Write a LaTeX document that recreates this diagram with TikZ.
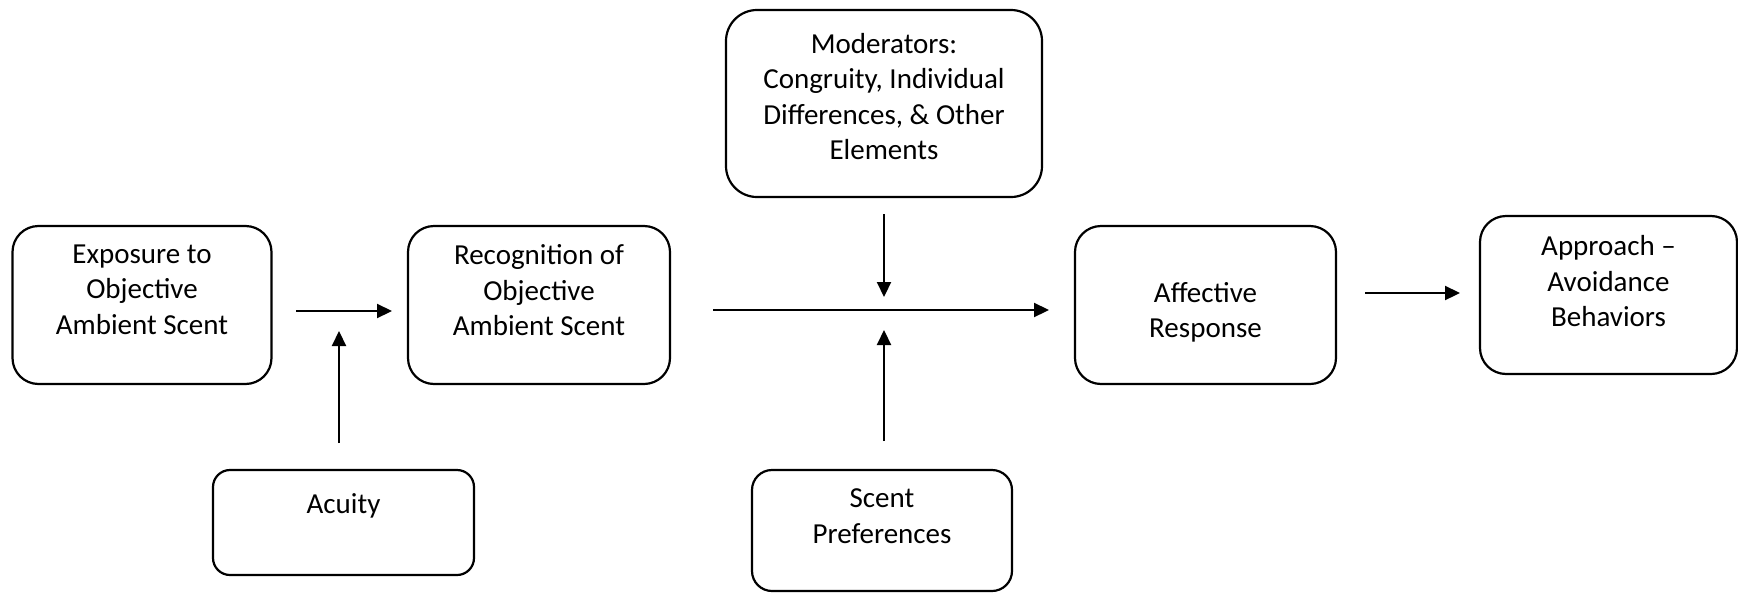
\documentclass[tikz,border=0pt]{standalone}
\usepackage{fontspec}
\setmainfont{Carlito}
\usetikzlibrary{arrows.meta}
\tikzset{
  box/.style={draw, line width=2.2pt, rounded corners=#1, inner sep=0pt},
  txt/.style={align=center, inner sep=0pt, anchor=north,
    font=\fontsize{29}{35.5}\selectfont, execute at begin node=\strut},
  arr/.style={line width=2.2pt, -{Triangle[length=15pt,width=14pt]}}
}
\begin{document}
\begin{tikzpicture}[x=1pt,y=-1pt]
\useasboundingbox (0,0) rectangle (1738,592);
% boxes
\node[box=26pt, minimum width=259pt, minimum height=158pt] (exp) at (142,305) {};
\node[box=26pt, minimum width=262pt, minimum height=158pt] (rec) at (539,305) {};
\node[box=31pt, minimum width=316pt, minimum height=187pt] (mod) at (884,103.5) {};
\node[box=26pt, minimum width=261pt, minimum height=158pt] (aff) at (1205.5,305) {};
\node[box=26pt, minimum width=257pt, minimum height=158pt] (app) at (1608.5,295) {};
\node[box=17pt, minimum width=261pt, minimum height=105pt] (acu) at (343.5,522.5) {};
\node[box=20pt, minimum width=260pt, minimum height=121pt] (pref) at (882,530.5) {};
% texts
\node[txt] (expt) at ([yshift=-19.5pt]exp.north) {Exposure to\\Objective\\Ambient Scent};
\node[txt] (rect) at ([yshift=-19.5pt]rec.north) {Recognition of\\Objective\\Ambient Scent};
\node[txt] (modt) at ([yshift=-24pt]mod.north) {Moderators:\\Congruity, Individual\\Differences, \& Other\\Elements};
\node[txt] (afft) at ([yshift=-57pt]aff.north) {Affective\\Response};
\node[txt] (appt) at ([yshift=-20.5pt]app.north) {Approach –\\Avoidance\\Behaviors};
\node[txt] (acut) at ([yshift=-19.5pt]acu.north) {Acuity};
\node[txt] (preft) at ([yshift=-20pt]pref.north) {Scent\\Preferences};
% connector points
\coordinate (a1s) at (296,311);
\coordinate (a1e) at (392,311);
\coordinate (acs) at (339,443);
\coordinate (ace) at (339,331);
\coordinate (ls) at (713,310);
\coordinate (le) at (1049,310);
\coordinate (ms) at (884,214);
\coordinate (me) at (884,297);
\coordinate (ps) at (884,441);
\coordinate (pe) at (884,330);
\coordinate (a4s) at (1365,293);
\coordinate (a4e) at (1460,293);
% arrows
\draw[arr] (a1s) -- (a1e);
\draw[arr] (acs) -- (ace);
\draw[arr] (ls) -- (le);
\draw[arr] (ms) -- (me);
\draw[arr] (ps) -- (pe);
\draw[arr] (a4s) -- (a4e);
\end{tikzpicture}
\end{document}
